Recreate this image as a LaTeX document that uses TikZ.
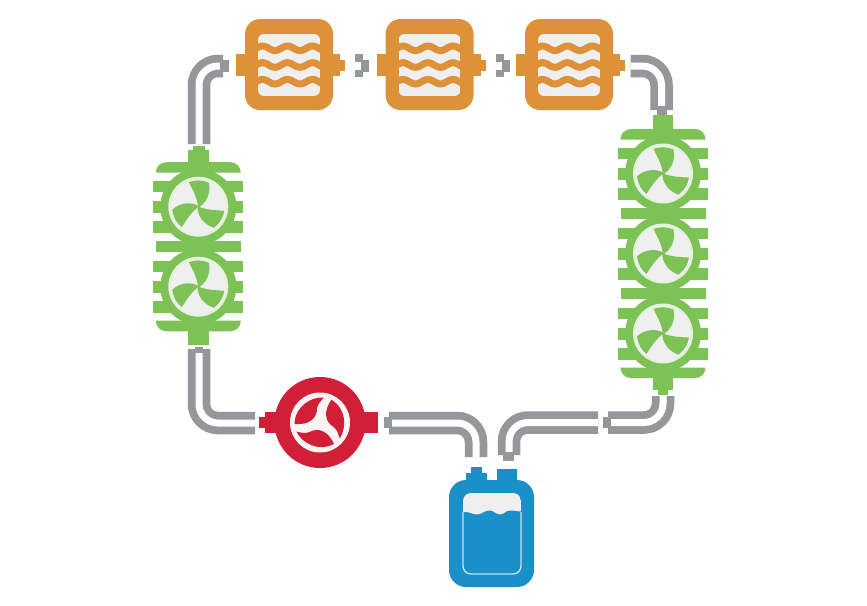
\documentclass[tikz,border=0pt]{standalone}
\definecolor{pipegray}{HTML}{96979B}
\definecolor{heatorange}{HTML}{DD923A}
\definecolor{fangreen}{HTML}{7DC255}
\definecolor{pumpred}{HTML}{D11F37}
\definecolor{tankblue}{HTML}{1B8FC7}
\definecolor{paleblue}{HTML}{BFE3F3}
\definecolor{lightfill}{HTML}{EFEFEF}
\definecolor{ringpale}{HTML}{E4F1DB}
\tikzset{
  pipeouter/.style={draw=pipegray,line width=22.5pt,rounded corners=19pt},
  pipeinner/.style={draw=white,line width=7pt,rounded corners=19pt},
  pipecap/.style={fill=pipegray},
  heatfill/.style={fill=heatorange},
  greenfill/.style={fill=fangreen},
  wavyband/.style={draw=heatorange,line width=7pt},
}
\newcommand{\pipeline}[1]{\draw[pipeouter] #1; \draw[pipeinner] #1;}
% heat exchanger, #1 = horizontal offset
\newcommand{\heatunit}[1]{%
  \begin{scope}[xshift=#1pt]
    \fill[heatfill,rounded corners=15pt] (245,19) rectangle (333,110);
    \fill[heatfill] (236,54.3) rectangle (246,75.7);
    \fill[heatfill] (332,54.3) rectangle (340,75.7);
    \fill[heatfill] (339,60) rectangle (345,70.5);
    \begin{scope}
      \clip[rounded corners=6pt] (258,34) rectangle (320,96);
      \fill[lightfill] (258,34) rectangle (320,96);
      \foreach \yy in {48.3,65,81.7}
        \draw[wavyband] plot[domain=250:328,samples=60,smooth] (\x,{\yy+2.3*cos((\x-275)*14.4)});
    \end{scope}
  \end{scope}}
% one fan, centre #1,#2
\newcommand{\fandisc}[2]{%
  \begin{scope}[shift={(#1,#2)}]
    \fill[ringpale] (0,0) circle[radius=30pt];
    \fill[lightfill] (0,0) circle[radius=28pt];
    \foreach \a in {0,120,240}
      \fill[greenfill,rotate=\a] (0,1) .. controls (-1,-8) and (-5,-16) .. (-9.5,-24.5)
        .. controls (-3,-27) and (3,-27) .. (10.5,-24)
        .. controls (13,-12) and (7,-3) .. (0,1) -- cycle;
  \end{scope}}
% fan bank body, centre x #1, first fan y #2, number of fans #3
\newcommand{\fanbody}[3]{%
  \begin{scope}[shift={(#1,#2)}]
    \pgfmathsetmacro{\lasty}{(#3-1)*80}
    \fill[greenfill] (-42.5,-34) .. controls (-42.5,-40) and (-38,-44.7) .. (-31,-44.7) -- (31,-44.7) .. controls (38,-44.7) and (42.5,-40) .. (42.5,-34) -- cycle;
    \fill[greenfill] (-42.5,\lasty+34) .. controls (-42.5,\lasty+40) and (-38,\lasty+44.7) .. (-31,\lasty+44.7) -- (31,\lasty+44.7) .. controls (38,\lasty+44.7) and (42.5,\lasty+40) .. (42.5,\lasty+34) -- cycle;
    \foreach \n in {1,...,#3} {
      \pgfmathsetmacro{\cy}{(\n-1)*80}
      \fill[greenfill] (0,\cy) circle[radius=38pt];
      \fill[greenfill] (-45,\cy-26) rectangle (45,\cy-14.5);
      \fill[greenfill] (-45,\cy-6) rectangle (45,\cy+6);
      \fill[greenfill] (-45,\cy+14.5) rectangle (45,\cy+26);
      \ifnum\n<#3 \fill[greenfill] (-42.5,\cy+34.5) rectangle (42.5,\cy+45.5); \fi
      \fandisc{0}{\cy}
    }
  \end{scope}}
\begin{document}
\begin{tikzpicture}[x=1pt,y=-1pt]
\fill[white] (0,0) rectangle (867,605);
\useasboundingbox (0,0) rectangle (867,605);
% pipe end points
\coordinate (leftTop) at (199,144);
\coordinate (heatAin) at (223,66);
\coordinate (heatCout) at (630.5,66);
\coordinate (rightTop) at (661.5,110);
\coordinate (leftBot) at (199,349);
\coordinate (pumpIn) at (255,423);
\coordinate (pumpOut) at (389,423);
\coordinate (tankA) at (476,457);
\coordinate (tankB) at (509,455);
\coordinate (rightA) at (598,422.5);
\coordinate (rightB) at (608,422.5);
\coordinate (rightBot) at (663,396);
% pipes
\pipeline{(leftTop) |- (heatAin)}
\pipeline{(heatCout) -| (rightTop)}
\pipeline{(leftBot) |- (pumpIn)}
\pipeline{(pumpOut) -| (tankA)}
\pipeline{(tankB) |- (rightA)}
\pipeline{(rightBot) |- (rightB)}
% pipe caps
\fill[pipecap] (220,60) rectangle (228.5,72);
\fill[pipecap] (657,106) rectangle (667,115);
\fill[pipecap] (195,347) rectangle (203,353);
\fill[pipecap] (384,417) rectangle (392,428);
\fill[pipecap] (503,452) rectangle (514,461);
\fill[pipecap] (603,417) rectangle (611,428);
% short links between exchangers
\foreach \dx in {0,140.5} {
  \begin{scope}[xshift=\dx pt]
    \fill[pipecap] (355,54.3) rectangle (363,61.7);
    \fill[pipecap] (355,70) rectangle (363,76.7);
    \fill[pipecap] (361,60) rectangle (369,71.7);
  \end{scope}}
% heat exchangers
\heatunit{0}
\heatunit{140.5}
\heatunit{280}
% left fan bank
\fill[greenfill] (192.5,146) rectangle (205,151);
\fill[greenfill] (188,150) rectangle (209,170);
\fill[greenfill] (188,325) rectangle (209,345);
\fanbody{198.3}{206.7}{2}
% right fan bank
\fill[greenfill] (653,115) rectangle (673,135);
\fill[greenfill] (653,372) rectangle (673,390);
\fill[greenfill] (658,389) rectangle (668,395);
\fanbody{663}{173.5}{3}
% pump
\fill[pumpred] (259,417) rectangle (266,428);
\fill[pumpred] (265,412) rectangle (285,433);
\fill[pumpred] (355,412) rectangle (378,433);
\fill[pumpred] (320,422.5) circle[radius=45.5pt];
\begin{scope}[shift={(320,422.5)}]
  \fill[white!95!pumpred] (0,0) circle[radius=30pt];
  \foreach \a in {0,120,240}
    \fill[pumpred,rotate=\a] (4,-25) .. controls (-9,-26) and (-25,-16) .. (-25.5,1.5)
      .. controls (-18,2) and (-13,1) .. (-9,-2)
      .. controls (-4.5,-5) and (-3,-9.5) .. (-3,-14)
      .. controls (-2.5,-18) and (1,-22) .. (4,-25) -- cycle;
\end{scope}
% tank
\fill[tankblue] (471,467) rectangle (482,474);
\fill[tankblue] (466,473) rectangle (487,482);
\fill[tankblue] (497,469) rectangle (517,482);
\fill[tankblue,rounded corners=17pt] (449,480) rectangle (534,587);
\begin{scope}
  \clip[rounded corners=8pt] (463,493) rectangle (521,574);
  \fill[lightfill] (463,493) rectangle (521,574);
  \fill[tankblue] (463,512) .. controls (468,511) and (473,515) .. (477.5,514.5)
    .. controls (482,514.5) and (485,510) .. (490,510.5) .. controls (494,511) and (496,514.5) .. (500,514.5)
    .. controls (504,514.5) and (506,510.5) .. (510,510.5) .. controls (514,510.5) and (517,511.5) .. (521,511.5)
    -- (521,574) -- (463,574) -- cycle;
\end{scope}
\draw[paleblue,line width=1.4pt,rounded corners=8pt] (463,512) -- (463,574) -- (521,574) -- (521,512);
\end{tikzpicture}
\end{document}
